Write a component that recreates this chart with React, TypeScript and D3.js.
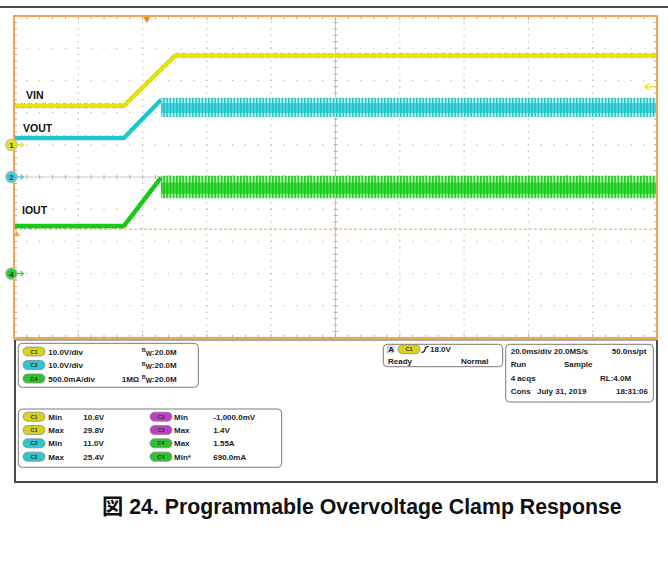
import React from "react";
import * as d3 from "d3";

// ---------- data (read from the scope capture) ----------
const timeDomainMs = [0, 200]; // 20 ms/div, 10 divisions
const vinTime = [0, 34.2, 50.1, 200];
const vinVolts = [12.1, 12.1, 27.7, 27.7];
const voutTime = [0, 34.2, 45.7];
const voutVolts = [12.1, 12.1, 23.9];
const voutRippleTime = [45.7, 200];
const voutRippleMax = [24.6, 24.6];
const voutRippleMin = [18.6, 18.6];
const voutCoreMax = [23.0, 23.0];
const voutCoreMin = [19.9, 19.9];
const ioutTime = [0, 34.2, 45.7];
const ioutAmps = [0.74, 0.74, 1.49];
const ioutRippleTime = [45.7, 200];
const ioutRippleMax = [1.52, 1.52];
const ioutRippleMin = [1.17, 1.17];
const ioutCoreMax = [1.41, 1.41];
const ioutCoreMin = [1.24, 1.24];
const triggerTimeMs = 41.3;
const triggerLevelV = 18.0;
const cursorLevelA = 0.69;

// channel settings: units per division, ground offset in divisions
const ch1PerDiv = 10, ch1Offset = 1;
const ch2PerDiv = 10, ch2Offset = 0;
const ch4PerDiv = 0.5, ch4Offset = -3;

// info panel texts
const scaleChans = ["C1", "C2", "C4"];
const scaleTexts = ["10.0V/div", "10.0V/div", "500.0mA/div"];
const scaleImp = ["", "", "1MΩ"];
const scaleBw = ["20.0M", "20.0M", "20.0M"];
const measChanA = ["C1", "C1", "C2", "C2"];
const measLabelA = ["Min", "Max", "Min", "Max"];
const measValueA = ["10.6V", "29.8V", "11.0V", "25.4V"];
const measChanB = ["C3", "C3", "C4", "C4"];
const measLabelB = ["Min", "Max", "Max", "Min*"];
const measValueB = ["-1,000.0mV", "1.4V", "1.55A", "690.0mA"];
const caption = "図 24. Programmable Overvoltage Clamp Response";

const FONT = "'Liberation Sans', Arial, 'Noto Sans CJK JP', sans-serif";
const chanColor: Record<string, string> = {
  C1: "#d9d21c",
  C2: "#2ec6d2",
  C3: "#c03cc8",
  C4: "#2cc22c",
};

function Badge({ x, y, ch }: { x: number; y: number; ch: string }) {
  return (
    <g>
      <rect x={x} y={y - 4.5} width={22} height={9} rx={4.5} fill={chanColor[ch]} stroke="#8a8a8a" strokeWidth={0.8} />
      <text x={x + 11} y={y + 2} textAnchor="middle" fontSize={5.5} fontWeight="bold" fill="#333" fontFamily={FONT}>
        {ch}
      </text>
    </g>
  );
}

function Marker({ x, y, n, color }: { x: number; y: number; n: string; color: string }) {
  return (
    <g>
      <circle cx={x} cy={y} r={5.8} fill={color} stroke="#bdbdbd" strokeWidth={1.2} />
      <text x={x} y={y + 3} textAnchor="middle" fontSize={8} fontWeight="bold" fill="#333" fontFamily={FONT}>
        {n}
      </text>
      <line x1={x + 6} y1={y} x2={x + 11} y2={y} stroke={color} strokeWidth={1.2} />
      <path d={`M${x + 9},${y - 2.5} L${x + 12},${y} L${x + 9},${y + 2.5}`} fill="none" stroke={color} strokeWidth={1.2} />
    </g>
  );
}

export default function App() {
  const L = 14, R = 657, T = 16, B = 338;
  const x = d3.scaleLinear().domain(timeDomainMs).range([L, R]);
  const yDiv = d3.scaleLinear().domain([-5, 5]).range([B, T]);
  const y1 = (v: number) => yDiv(v / ch1PerDiv + ch1Offset);
  const y2 = (v: number) => yDiv(v / ch2PerDiv + ch2Offset);
  const y4 = (v: number) => yDiv(v / ch4PerDiv + ch4Offset);

  const line = d3.line<[number, number]>();
  const vinPts = vinTime.map((t, i) => [x(t), y1(vinVolts[i])] as [number, number]);
  const vinPath = line(vinPts)!;
  const vinEdge = line(vinPts.map(([px, py]) => [px, py - 2.3] as [number, number]))!;
  const vinEdgeLow = line(vinPts.map(([px, py]) => [px, py + 2.3] as [number, number]))!;
  const voutPts = voutTime.map((t, i) => [x(t), y2(voutVolts[i])] as [number, number]);
  const voutPath = line(voutPts)!;
  const voutEdge = line(voutPts.map(([px, py]) => [px, py - 2.3] as [number, number]))!;
  const ioutPts = ioutTime.map((t, i) => [x(t), y4(ioutAmps[i])] as [number, number]);
  const ioutPath = line(ioutPts)!;
  const ioutEdge = line(ioutPts.map(([px, py]) => [px, py + 2.5] as [number, number]))!;

  const band = (ts: number[], lo: number[], hi: number[], fy: (v: number) => number) =>
    d3
      .area<number>()
      .x((t) => x(t))
      .y0((_, i) => fy(lo[i]))
      .y1((_, i) => fy(hi[i]))(ts)!;

  const voutBand = band(voutRippleTime, voutRippleMin, voutRippleMax, y2);
  const voutCore = band(voutRippleTime, voutCoreMin, voutCoreMax, y2);
  const ioutBand = band(ioutRippleTime, ioutRippleMin, ioutRippleMax, y4);
  const ioutCore = band(ioutRippleTime, ioutCoreMin, ioutCoreMax, y4);
  const voutTop = line(voutRippleTime.map((t, i) => [x(t), y2(voutRippleMax[i]) + 1]))!;
  const ioutTop = line(ioutRippleTime.map((t, i) => [x(t), y4(ioutRippleMax[i]) + 1]))!;

  const majorX = d3.range(0, 11).map((i) => x(i * 20));
  const minorX = d3.range(0, 51).map((i) => x(i * 4));
  const majorY = d3.range(-5, 6).map((d) => yDiv(d));
  const minorY = d3.range(0, 51).map((i) => yDiv(-5 + i * 0.2));
  const cx = x(100);
  const cy = yDiv(0);

  const dots: JSX.Element[] = [];
  majorX.slice(1, -1).forEach((gx, i) => {
    if (Math.abs(gx - cx) < 1) return;
    minorY.slice(1, -1).forEach((gy, j) => dots.push(<rect key={`v${i}-${j}`} x={gx - 0.6} y={gy - 0.6} width={1.2} height={1.2} fill="#b9b9b9" />));
  });
  majorY.slice(1, -1).forEach((gy, i) => {
    if (Math.abs(gy - cy) < 1) return;
    minorX.slice(1, -1).forEach((gx, j) => dots.push(<rect key={`h${i}-${j}`} x={gx - 0.6} y={gy - 0.6} width={1.2} height={1.2} fill="#b9b9b9" />));
  });

  const tickColor = "#b3aa9c";
  const ticks: JSX.Element[] = [];
  minorX.slice(1, -1).forEach((gx, i) => {
    const len = i % 5 === 4 ? 4 : 3;
    ticks.push(<line key={`tt${i}`} x1={gx} x2={gx} y1={T} y2={T + len} stroke={tickColor} />);
    ticks.push(<line key={`tb${i}`} x1={gx} x2={gx} y1={B} y2={B - len} stroke={tickColor} />);
    ticks.push(<line key={`tc${i}`} x1={gx} x2={gx} y1={cy - 2} y2={cy + 2} stroke={tickColor} />);
  });
  minorY.slice(1, -1).forEach((gy, i) => {
    ticks.push(<line key={`tl${i}`} x1={L} x2={L + 3} y1={gy} y2={gy} stroke={tickColor} />);
    ticks.push(<line key={`tr${i}`} x1={R} x2={R - 3} y1={gy} y2={gy} stroke={tickColor} />);
    ticks.push(<line key={`tv${i}`} x1={cx - 2} x2={cx + 2} y1={gy} y2={gy} stroke={tickColor} />);
  });

  const trigX = x(triggerTimeMs);
  const trigY = y1(triggerLevelV);
  const cursorY = y4(cursorLevelA);

  const txt = (s: string, tx: number, ty: number, key?: string, anchor = "start") => (
    <text key={key} x={tx} y={ty} fontSize={8} fontWeight="bold" fill="#222" fontFamily={FONT} textAnchor={anchor}>
      {s}
    </text>
  );

  const scaleRowY = [351.5, 365, 378.5];
  const measRowY = [416.7, 430, 443.3, 456.7];

  return (
    <svg width={668} height={567} style={{ position: "absolute", left: 0, top: 0 }} fontFamily={FONT}>
      <defs>
        <pattern id="cyanStripes" width={3.2} height={4} patternUnits="userSpaceOnUse">
          <rect width={3.2} height={4} fill="#c4f2f4" />
          <rect width={1.5} height={4} fill="#1cc6cf" />
        </pattern>
        <pattern id="greenStripes" width={3.2} height={4} patternUnits="userSpaceOnUse">
          <rect width={3.2} height={4} fill="#aaf0aa" />
          <rect width={1.5} height={4} fill="#1ccd1c" />
        </pattern>
      </defs>
      <rect width={668} height={567} fill="#fff" />
      <line x1={0} x2={668} y1={7} y2={7} stroke="#111" strokeWidth={1.5} />

      {/* graticule */}
      {dots}
      <line x1={cx} x2={cx} y1={T} y2={B} stroke="#cfc8bd" strokeWidth={1} />
      <line x1={L} x2={R} y1={cy} y2={cy} stroke="#cfc8bd" strokeWidth={1} />
      {ticks}

      {/* cursor level (dashed orange) */}
      <line x1={L} x2={R} y1={cursorY} y2={cursorY} stroke="#f2a54a" strokeWidth={1} strokeDasharray="3,2" />
      <path d={`M${L + 1},${cursorY + 7} L${L + 6},${cursorY + 7} L${L + 2},${cursorY + 1} Z`} fill="#f0a040" />

      {/* VIN */}
      <path d={vinPath} fill="none" stroke="#e6e40a" strokeWidth={4.2} strokeLinejoin="round" />
      <path d={vinEdge} fill="none" stroke="#7d7a2a" strokeWidth={1} strokeDasharray="2,1,1,3" opacity={0.55} />
      <path d={vinEdgeLow} fill="none" stroke="#7d7a2a" strokeWidth={0.8} strokeDasharray="4,3" opacity={0.35} />

      {/* VOUT */}
      <path d={voutBand} fill="url(#cyanStripes)" />
      <path d={voutCore} fill="#18c4cc" opacity={0.7} />
      <path d={voutTop} fill="none" stroke="#4a8c90" strokeWidth={1} strokeDasharray="1,3" opacity={0.5} />
      <path d={voutPath} fill="none" stroke="#18c8d2" strokeWidth={4.2} strokeLinejoin="round" />
      <path d={voutEdge} fill="none" stroke="#2f7f86" strokeWidth={1} strokeDasharray="2,1,1,3" opacity={0.45} />

      {/* IOUT */}
      <path d={ioutBand} fill="url(#greenStripes)" />
      <path d={ioutCore} fill="#16c816" opacity={0.7} />
      <path d={ioutTop} fill="none" stroke="#5a7a5a" strokeWidth={1} strokeDasharray="1,3" opacity={0.5} />
      <path d={ioutPath} fill="none" stroke="#16cc16" strokeWidth={4.4} strokeLinejoin="round" />
      <path d={ioutEdge} fill="none" stroke="#2a7a2a" strokeWidth={1} strokeDasharray="2,1,1,3" opacity={0.45} />

      {/* trace labels */}
      <text x={26} y={y1(vinVolts[0]) - 7} fontSize={10.5} fontWeight="bold" fill="#111">VIN</text>
      <text x={23} y={y2(voutVolts[0]) - 6} fontSize={10.5} fontWeight="bold" fill="#111">VOUT</text>
      <text x={22} y={y4(ioutAmps[0]) - 12} fontSize={10.5} fontWeight="bold" fill="#111">IOUT</text>

      {/* plot frame */}
      <rect x={L} y={T} width={R - L} height={B - T} fill="none" stroke="#f0a850" strokeWidth={2} />

      {/* trigger markers */}
      <path d={`M${trigX - 3.5},${T + 1} L${trigX + 3.5},${T + 1} L${trigX},${T + 7} Z`} fill="#f08a20" />
      <line x1={R - 11} x2={R} y1={trigY} y2={trigY} stroke="#e6e40a" strokeWidth={1.2} />
      <path d={`M${R - 8},${trigY - 3} L${R - 12},${trigY} L${R - 8},${trigY + 3}`} fill="none" stroke="#e6e40a" strokeWidth={1.2} />

      {/* channel ground markers */}
      <Marker x={11.5} y={yDiv(ch1Offset)} n="1" color="#e8e010" />
      <Marker x={11.5} y={yDiv(ch2Offset)} n="2" color="#38cfe0" />
      <Marker x={11.5} y={yDiv(ch4Offset)} n="4" color="#28d028" />

      {/* lower info panel frame */}
      <path d={`M${L + 1},${B + 2} L${L + 1},482 L${R},482 L${R},${B + 2}`} fill="none" stroke="#4a4a4a" strokeWidth={2} />
      <line x1={L} x2={R} y1={B + 2} y2={B + 2} stroke="#555" strokeWidth={1} />

      {/* vertical scale box */}
      <rect x={18.3} y={343.3} width={180} height={44} rx={4} fill="#fff" stroke="#7a7a7a" />
      {scaleChans.map((c, i) => (
        <g key={`s${i}`}>
          <Badge x={23} y={scaleRowY[i]} ch={c} />
          {txt(scaleTexts[i], 48.3, scaleRowY[i] + 3)}
          {scaleImp[i] && txt(scaleImp[i], 121.7, scaleRowY[i] + 3)}
          <text x={141.7} y={scaleRowY[i] + 3} fontSize={8} fontWeight="bold" fill="#222">
            <tspan fontSize={5.5} dy={-2.5}>B</tspan>
            <tspan fontSize={6.5} dy={3.5}>W</tspan>
            <tspan dy={-1}>:{scaleBw[i]}</tspan>
          </text>
        </g>
      ))}

      {/* measurements box */}
      <rect x={18.3} y={409} width={263.4} height={58.3} rx={4} fill="#fff" stroke="#7a7a7a" />
      {measChanA.map((c, i) => (
        <g key={`m${i}`}>
          <Badge x={23} y={measRowY[i]} ch={c} />
          {txt(measLabelA[i], 48.3, measRowY[i] + 3)}
          {txt(measValueA[i], 83.3, measRowY[i] + 3)}
          <Badge x={150} y={measRowY[i]} ch={measChanB[i]} />
          {txt(measLabelB[i], 174, measRowY[i] + 3)}
          {txt(measValueB[i], 213.3, measRowY[i] + 3)}
        </g>
      ))}

      {/* trigger box */}
      <rect x={383.3} y={344.3} width={119.4} height={22.4} rx={4} fill="#fff" stroke="#7a7a7a" />
      <rect x={386.5} y={345.5} width={8} height={8} fill="#d4d4d4" />
      {txt("A", 388.2, 352.2)}
      <Badge x={398} y={349.2} ch="C1" />
      <path d="M421.5,352.5 Q424.5,352.5 425,349.5 Q425.5,346.3 428.5,346.3" fill="none" stroke="#222" strokeWidth={1.3} />
      {txt("18.0V", 430, 352.2)}
      {txt("Ready", 388, 364.3)}
      {txt("Normal", 488.5, 364.3, undefined, "end")}

      {/* timebase box */}
      <rect x={505.7} y={344.3} width={147.6} height={57.7} rx={4} fill="#fff" stroke="#7a7a7a" />
      {txt("20.0ms/div 20.0MS/s", 510.7, 354)}
      {txt("50.0ns/pt", 611.7, 354)}
      {txt("Run", 510.7, 367.3)}
      {txt("Sample", 564, 367.3)}
      {txt("4 acqs", 510.7, 380.7)}
      {txt("RL:4.0M", 600, 380.7)}
      {txt("Cons", 510.7, 394)}
      {txt("July 31, 2019", 537, 394)}
      {txt("18:31:06", 648, 394, undefined, "end")}

      {/* caption */}
      <text x={102} y={514} fontSize={21.3} fontWeight="bold" fill="#111" fontFamily={FONT}>
        {caption}
      </text>
    </svg>
  );
}
